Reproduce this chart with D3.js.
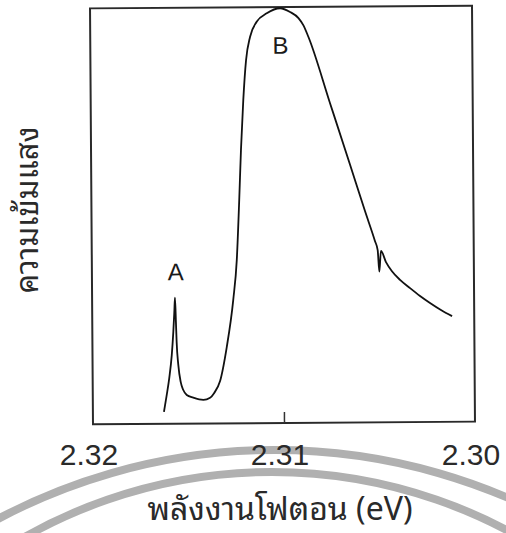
<!DOCTYPE html>
<html>
<head>
<meta charset="utf-8">
<script src="https://cdn.jsdelivr.net/npm/d3@7"></script>
<style>
  html, body { margin: 0; padding: 0; background: #fff; }
  svg { display: block; }
</style>
</head>
<body>
<svg id="chart" width="506" height="533"></svg>
<script>
// Photon energy (eV) and relative intensity (arb. units)
const energy = [
  2.31628, 2.31613, 2.31599, 2.31585, 2.31576, 2.31570, 2.31566, 2.31562,
  2.31559, 2.31551, 2.31539, 2.31526, 2.31508, 2.31474, 2.31421, 2.31386,
  2.31365, 2.31333, 2.31297, 2.31261, 2.31241, 2.31226, 2.31215, 2.31201,
  2.31185, 2.31163, 2.31128, 2.31075, 2.31005, 2.30953, 2.30909, 2.30884,
  2.30858, 2.30747, 2.30644, 2.30568, 2.30517, 2.30503, 2.30495, 2.30486,
  2.30460, 2.30429, 2.30387, 2.30335, 2.30283, 2.30231, 2.30174, 2.30116
];
const intensity = [
  2.9, 6.9, 11.0, 16.5, 22.1, 26.9, 30.3, 24.5,
  19.7, 14.1, 10.0, 8.1, 6.9, 6.25, 5.7, 6.2,
  7.3, 10.2, 18.3, 29.7, 39.3, 53.7, 65.7, 77.7,
  87.3, 92.9, 96.5, 98.5, 99.7, 98.8, 97.3, 95.6,
  92.8, 76.8, 61.9, 50.8, 43.6, 41.4, 36.2, 41.2,
  38.5, 36.3, 34.2, 32.2, 30.3, 28.6, 26.9, 25.4
];
const tickLabels = [2.32, 2.31, 2.30];
const innerTicks = [2.31];
const peakNames = ["A", "B"];
const peakEnergy = [2.31566, 2.3101];
const peakLabelLevel = [34.5, 88.8];
const xTitle = "พลังงานโฟตอน (eV)";
const yTitle = "ความเข้มแสง";

const data = energy.map((e, i) => ({ e, v: intensity[i] }));

const svg = d3.select("#chart");
const pLeft = 91.5, pRight = 473.5, pTop = 7, pBottom = 423;
const pcx = (pLeft + pRight) / 2, pcy = (pTop + pBottom) / 2;

const x = d3.scaleLinear().domain([2.32, 2.30]).range([pLeft, pRight]);
const y = d3.scaleLinear().domain([0, 100]).range([pBottom, pTop]);

const thaiFont = "'Noto Sans Thai Looped', 'Noto Sans Thai', 'Tahoma', 'Loma', 'Garuda', sans-serif";
const latinFont = "'Liberation Sans', Tahoma, sans-serif";

// faint watermark arcs behind the labels
const wm = svg.append("g").attr("fill", "none").attr("stroke", "#b0b0b0").attr("stroke-width", 8);
wm.append("path").attr("d", d3.arc()({innerRadius: 591, outerRadius: 591, startAngle: -0.55, endAngle: 0.55}))
  .attr("transform", "translate(275,1041)");
wm.append("path").attr("d", d3.arc()({innerRadius: 503, outerRadius: 503, startAngle: -0.65, endAngle: 0.65}))
  .attr("transform", "translate(272,975)");

// plot group, slightly tilted like the scanned original
const g = svg.append("g").attr("transform", `rotate(-0.41,${pcx},${pcy})`);

g.append("rect")
  .attr("x", pLeft).attr("y", pTop)
  .attr("width", pRight - pLeft).attr("height", pBottom - pTop)
  .attr("fill", "none").attr("stroke", "#2a2a2a").attr("stroke-width", 2);

// inner tick at 2.31
const tickAxis = d3.axisBottom(x).tickValues(innerTicks).tickSize(-11).tickFormat("");
const ta = g.append("g").attr("transform", `translate(0,${pBottom})`).call(tickAxis);
ta.select(".domain").remove();
ta.selectAll(".tick line").attr("stroke", "#333").attr("stroke-width", 1.5);

// spectrum
const line = d3.line().x(d => x(d.e)).y(d => y(d.v)).curve(d3.curveMonotoneX);
g.append("path").datum(data)
  .attr("d", line)
  .attr("fill", "none").attr("stroke", "#111").attr("stroke-width", 1.8)
  .attr("stroke-linejoin", "round");

// peak labels
g.selectAll(".peak").data(peakNames).enter().append("text")
  .attr("class", "peak")
  .attr("x", (d, i) => x(peakEnergy[i]) + 1)
  .attr("y", (d, i) => y(peakLabelLevel[i]))
  .attr("text-anchor", "middle")
  .attr("font-family", latinFont).attr("font-size", 24)
  .attr("fill", "#1a1a1a")
  .text(d => d);

// x tick labels
const labAxis = d3.axisBottom(x).tickValues(tickLabels).tickSize(0).tickPadding(0)
  .tickFormat(d3.format(".2f"));
const la = svg.append("g").attr("transform", "translate(-3,465)").call(labAxis);
la.select(".domain").remove();
la.selectAll(".tick text")
  .attr("dy", 0)
  .attr("font-family", latinFont).attr("font-size", 30)
  .attr("fill", "#2a2a2a");

// axis titles
svg.append("text")
  .attr("x", 280).attr("y", 520)
  .attr("text-anchor", "middle")
  .attr("font-family", thaiFont).attr("font-size", 32)
  .attr("fill", "#2a2a2a")
  .text(xTitle);

svg.append("text")
  .attr("transform", "translate(38,210) rotate(-90)")
  .attr("text-anchor", "middle")
  .attr("font-family", thaiFont).attr("font-size", 31)
  .attr("fill", "#2a2a2a")
  .text(yTitle);
</script>
</body>
</html>
